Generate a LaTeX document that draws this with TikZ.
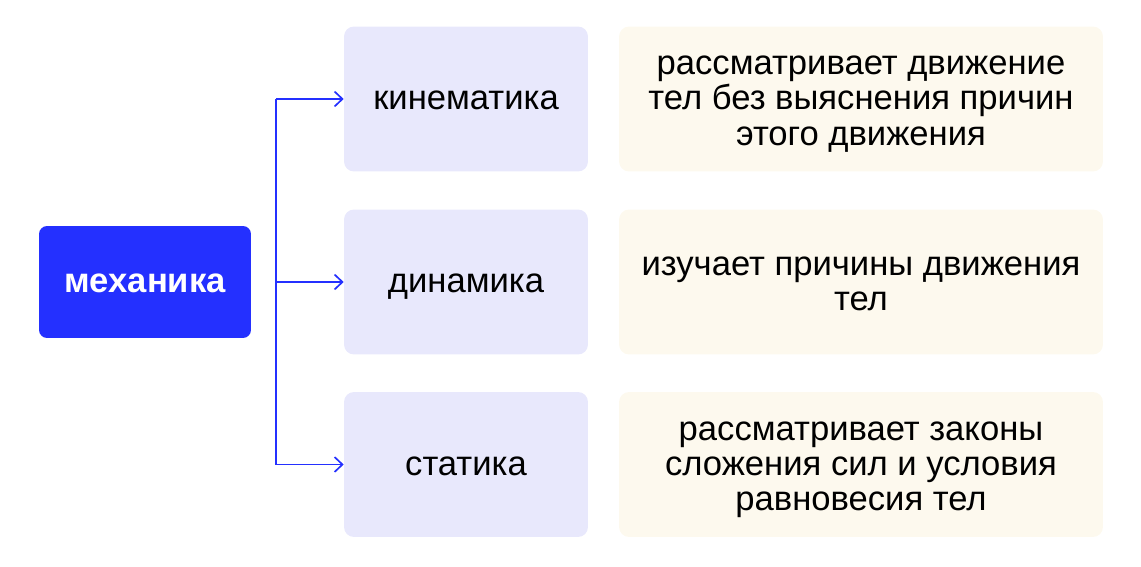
\documentclass[tikz,border=0pt]{standalone}
\usepackage{fontspec}
\setmainfont{Liberation Sans}
\usetikzlibrary{arrows.meta}
\definecolor{mechblue}{HTML}{2430FF}
\definecolor{branchfill}{HTML}{E8E8FC}
\definecolor{notefill}{HTML}{FDF9EE}
\newcommand{\topstrut}{\rule{0pt}{18.5pt}}
\begin{document}
\begin{tikzpicture}[x=0.02cm, y=-0.02cm,
    every node/.style = {font=\fontsize{19.7}{20.1}\selectfont, align=center, inner sep=0pt,
      execute at end node={\rule[-6pt]{0pt}{0pt}}},
    root/.style = {fill=mechblue, text=white, font=\fontsize{19.7}{20.1}\selectfont\bfseries, rounded corners=0.16cm, minimum width=4.24cm, minimum height=2.24cm},
    branch/.style = {fill=branchfill, rounded corners=0.2cm, minimum width=4.88cm, minimum height=2.9cm},
    note/.style = {fill=notefill, rounded corners=0.2cm, minimum width=9.68cm, minimum height=2.9cm},
    link/.style = {draw=mechblue, line width=0.95pt},
    arrowlink/.style = {link, -{Straight Barb[length=4.5pt, width=8.5pt]}}]
      \useasboundingbox (0,0) rectangle (1141,567);

      \node[root] (mech) at (145,282) {\topstrut механика};

      \node[branch] (kin) at (466,99) {\topstrut кинематика};
      \node[branch] (dyn) at (466,282) {\topstrut динамика};
      \node[branch] (stat) at (466,464.5) {\topstrut статика};

      \node[note] (kinnote) at (861,99) {\topstrut рассматривает движение\\тел без выяснения причин\\этого движения};
      \node[note] (dynnote) at (861,282) {\topstrut изучает причины движения\\тел};
      \node[note] (statnote) at (861,464.5) {\topstrut рассматривает законы\\сложения сил и условия\\равновесия тел};

      \coordinate (top) at (276,99);
      \coordinate (mid) at (276,282);
      \coordinate (bot) at (276,464.5);

      \draw[link] (top) -- (bot);
      \draw[arrowlink] (top) -- (kin.west);
      \draw[arrowlink] (mid) -- (dyn.west);
      \draw[arrowlink] (bot) -- (stat.west);

    \end{tikzpicture}
\end{document}
